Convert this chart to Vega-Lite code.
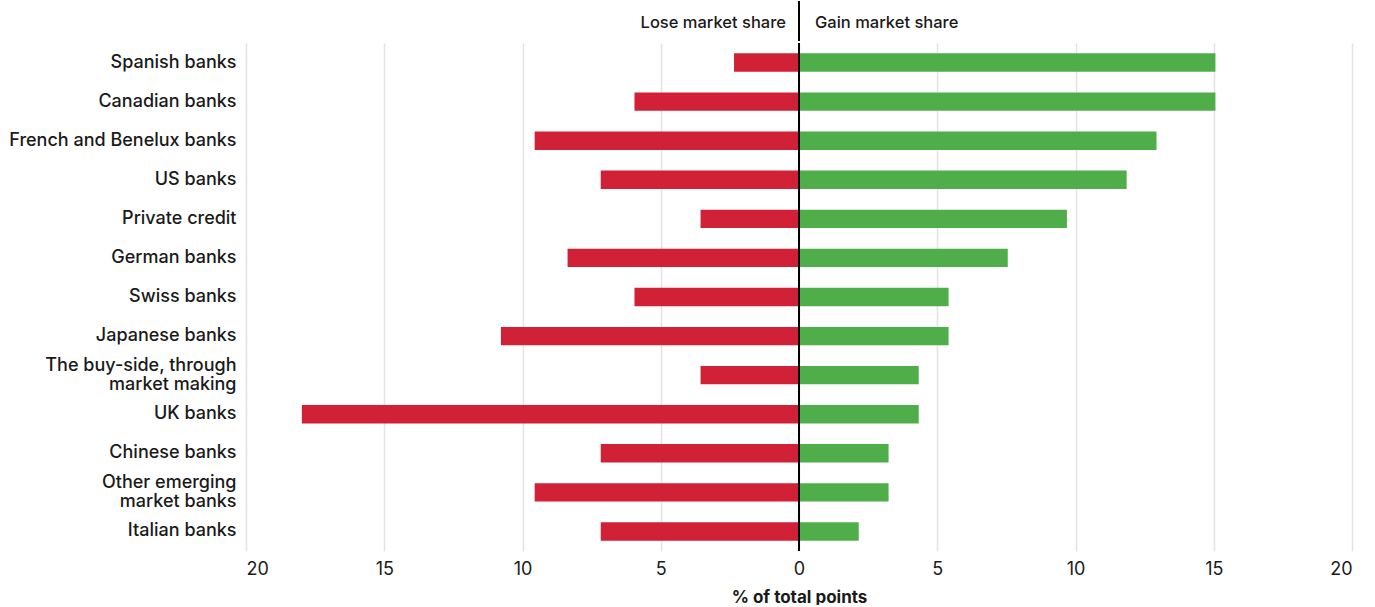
{
  "$schema": "https://vega.github.io/schema/vega-lite/v6.json",
  "padding": {"left": 8, "top": 0, "right": 24, "bottom": 0},
  "spacing": 0,
  "config": {"view": {"stroke": null}, "font": "Inter", "concat": {"spacing": 0}},
  "vconcat": [
    {
      "width": 1106,
      "height": 40,
      "data": {"values": [
        {"label": "Lose market share", "side": "Lose", "zero": 0},
        {"label": "Gain market share", "side": "Gain", "zero": 0}
      ]},
      "layer": [
        {
          "transform": [{"filter": "datum.side == 'Lose'"}],
          "mark": {"type": "rule", "color": "#000000", "strokeWidth": 2},
          "encoding": {"x": {"field": "zero", "type": "quantitative", "scale": {"domain": [-20, 20]}, "axis": null}}
        },
        {
          "transform": [{"filter": "datum.side == 'Lose'"}],
          "mark": {"type": "text", "align": "right", "dx": -13, "dy": 2, "fontSize": 16.5, "fontWeight": 500, "color": "#1a1a1a"},
          "encoding": {"x": {"field": "zero", "type": "quantitative"}, "text": {"field": "label"}}
        },
        {
          "transform": [{"filter": "datum.side == 'Gain'"}],
          "mark": {"type": "text", "align": "left", "dx": 16, "dy": 2, "fontSize": 16.5, "fontWeight": 500, "color": "#1a1a1a"},
          "encoding": {"x": {"field": "zero", "type": "quantitative"}, "text": {"field": "label"}}
        }
      ]
    },
    {
      "width": 1106,
      "height": 508,
      "data": {"values": [
        {"group": "Spanish banks", "side": "Lose", "value": -2.35},
        {"group": "Spanish banks", "side": "Gain", "value": 15.06},
        {"group": "Canadian banks", "side": "Lose", "value": -5.95},
        {"group": "Canadian banks", "side": "Gain", "value": 15.06},
        {"group": "French and Benelux banks", "side": "Lose", "value": -9.56},
        {"group": "French and Benelux banks", "side": "Gain", "value": 12.93},
        {"group": "US banks", "side": "Lose", "value": -7.17},
        {"group": "US banks", "side": "Gain", "value": 11.85},
        {"group": "Private credit", "side": "Lose", "value": -3.56},
        {"group": "Private credit", "side": "Gain", "value": 9.69},
        {"group": "German banks", "side": "Lose", "value": -8.37},
        {"group": "German banks", "side": "Gain", "value": 7.55},
        {"group": "Swiss banks", "side": "Lose", "value": -5.95},
        {"group": "Swiss banks", "side": "Gain", "value": 5.41},
        {"group": "Japanese banks", "side": "Lose", "value": -10.78},
        {"group": "Japanese banks", "side": "Gain", "value": 5.41},
        {"group": "The buy-side, through market making", "side": "Lose", "value": -3.56},
        {"group": "The buy-side, through market making", "side": "Gain", "value": 4.33},
        {"group": "UK banks", "side": "Lose", "value": -17.98},
        {"group": "UK banks", "side": "Gain", "value": 4.33},
        {"group": "Chinese banks", "side": "Lose", "value": -7.17},
        {"group": "Chinese banks", "side": "Gain", "value": 3.24},
        {"group": "Other emerging market banks", "side": "Lose", "value": -9.56},
        {"group": "Other emerging market banks", "side": "Gain", "value": 3.24},
        {"group": "Italian banks", "side": "Lose", "value": -7.17},
        {"group": "Italian banks", "side": "Gain", "value": 2.16}
      ]},
      "layer": [
        {
          "mark": {"type": "bar"},
          "encoding": {
            "y": {
              "field": "group",
              "type": "nominal",
              "sort": ["Spanish banks", "Canadian banks", "French and Benelux banks", "US banks", "Private credit", "German banks", "Swiss banks", "Japanese banks", "The buy-side, through market making", "UK banks", "Chinese banks", "Other emerging market banks", "Italian banks"],
              "scale": {"paddingInner": 0.53, "paddingOuter": 0.265},
              "axis": {
                "title": null,
                "domain": false,
                "ticks": false,
                "labelPadding": 10,
                "labelFontSize": 18,
                "labelFontWeight": 500,
                "labelColor": "#1a1a1a",
                "labelLimit": 300,
                "labelLineHeight": 19,
                "labelOffset": {"condition": {"test": "datum.value == 'The buy-side, through market making' || datum.value == 'Other emerging market banks'", "value": -9.5}, "value": 0},
                "minExtent": 237,
                "maxExtent": 237,
                "labelExpr": "datum.value == 'The buy-side, through market making' ? ['The buy-side, through', 'market making'] : datum.value == 'Other emerging market banks' ? ['Other emerging', 'market banks'] : datum.value"
              }
            },
            "x": {
              "field": "value",
              "type": "quantitative",
              "scale": {"domain": [-20, 20]},
              "axis": {
                "values": [-20, -15, -10, -5, 0, 5, 10, 15, 20],
                "labelExpr": "abs(datum.value)",
                "title": "% of total points",
                "domain": false,
                "ticks": false,
                "labelPadding": 9,
                "labelFontSize": 18,
                "labelColor": "#1a1a1a",
                "grid": true,
                "gridColor": "#e3e3e3",
                "gridWidth": 1.5,
                "titleFontSize": 17,
                "titleFontWeight": "bold",
                "titleColor": "#1a1a1a",
                "titlePadding": 11
              }
            },
            "color": {
              "field": "side",
              "type": "nominal",
              "scale": {"domain": ["Lose", "Gain"], "range": ["#D12136", "#50AE4A"]},
              "legend": null
            }
          }
        },
        {
          "data": {"values": [{"zero": 0}]},
          "mark": {"type": "rule", "color": "#000000", "strokeWidth": 2},
          "encoding": {"x": {"field": "zero", "type": "quantitative"}}
        }
      ]
    }
  ]
}
